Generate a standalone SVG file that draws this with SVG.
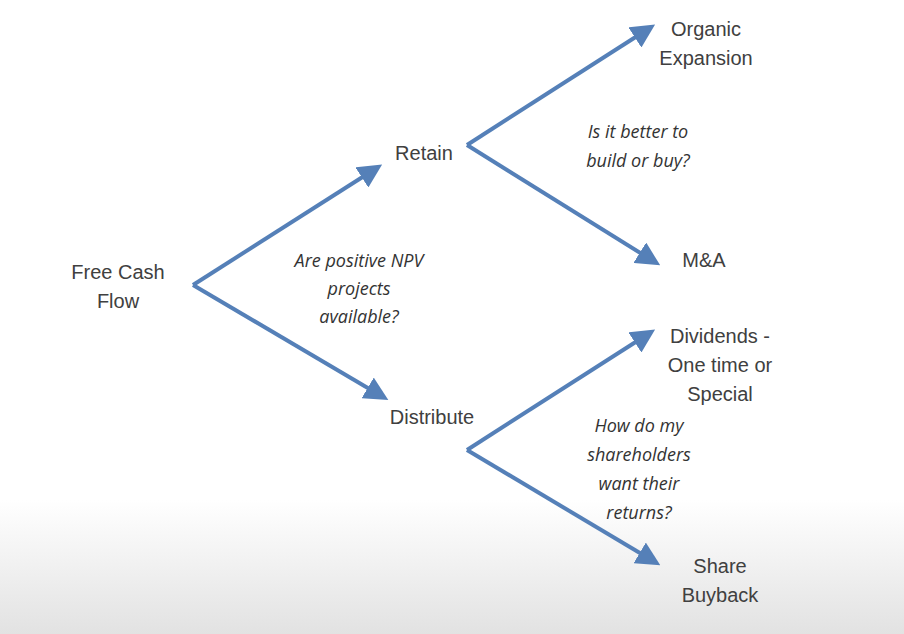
<svg xmlns="http://www.w3.org/2000/svg" width="904" height="634" viewBox="0 0 904 634">
<style>
.n{font-family:"Liberation Sans",Arial,sans-serif;font-size:20px;fill:#404040;text-anchor:middle}
.q{font-family:"Open Sans","DejaVu Sans",sans-serif;font-style:italic;font-size:18px;fill:#333;text-anchor:middle}
.c{stroke:#5580b8;stroke-width:4;fill:none;marker-end:url(#a)}
</style>
<defs>
<marker id="a" markerWidth="6" markerHeight="6" refX="3" refY="3" orient="auto" markerUnits="strokeWidth" viewBox="0 0 6 6"><path d="M0,0 L6,3 L0,6 z" fill="#5580b8"/></marker>
<linearGradient id="g" x1="0" y1="0" x2="0" y2="1"><stop offset="0" stop-color="#fff"/><stop offset="1" stop-color="#e2e2e2"/></linearGradient>
</defs>
<rect width="904" height="634" fill="#fff"/>
<rect y="500" width="904" height="134" fill="url(#g)"/>
<g id="connectors">
<path class="c" d="M193,285 L372,171"/>
<path class="c" d="M193,285 L378,394"/>
<path class="c" d="M467,145 L645,31"/>
<path class="c" d="M467,145 L650,259"/>
<path class="c" d="M467,450 L645,336"/>
<path class="c" d="M467,450 L650,559"/>
</g>
<g id="fcf"><text class="n" x="118" y="279">Free Cash</text><text class="n" x="118" y="308">Flow</text></g>
<g id="retain"><text class="n" x="424" y="160">Retain</text></g>
<g id="distribute"><text class="n" x="432" y="424">Distribute</text></g>
<g id="organic"><text class="n" x="706" y="36">Organic</text><text class="n" x="706" y="65">Expansion</text></g>
<g id="ma"><text class="n" x="704" y="267">M&amp;A</text></g>
<g id="div"><text class="n" x="720" y="343">Dividends -</text><text class="n" x="720" y="372">One time or</text><text class="n" x="720" y="401">Special</text></g>
<g id="buyback"><text class="n" x="720" y="573">Share</text><text class="n" x="720" y="602">Buyback</text></g>
<g id="q1"><text class="q" x="359" y="267">Are positive NPV</text><text class="q" x="359" y="295">projects</text><text class="q" x="359" y="323">available?</text></g>
<g id="q2"><text class="q" x="638" y="138">Is it better to</text><text class="q" x="638" y="167">build or buy?</text></g>
<g id="q3"><text class="q" x="639" y="432">How do my</text><text class="q" x="639" y="461">shareholders</text><text class="q" x="639" y="490">want their</text><text class="q" x="639" y="519">returns?</text></g>
</svg>
